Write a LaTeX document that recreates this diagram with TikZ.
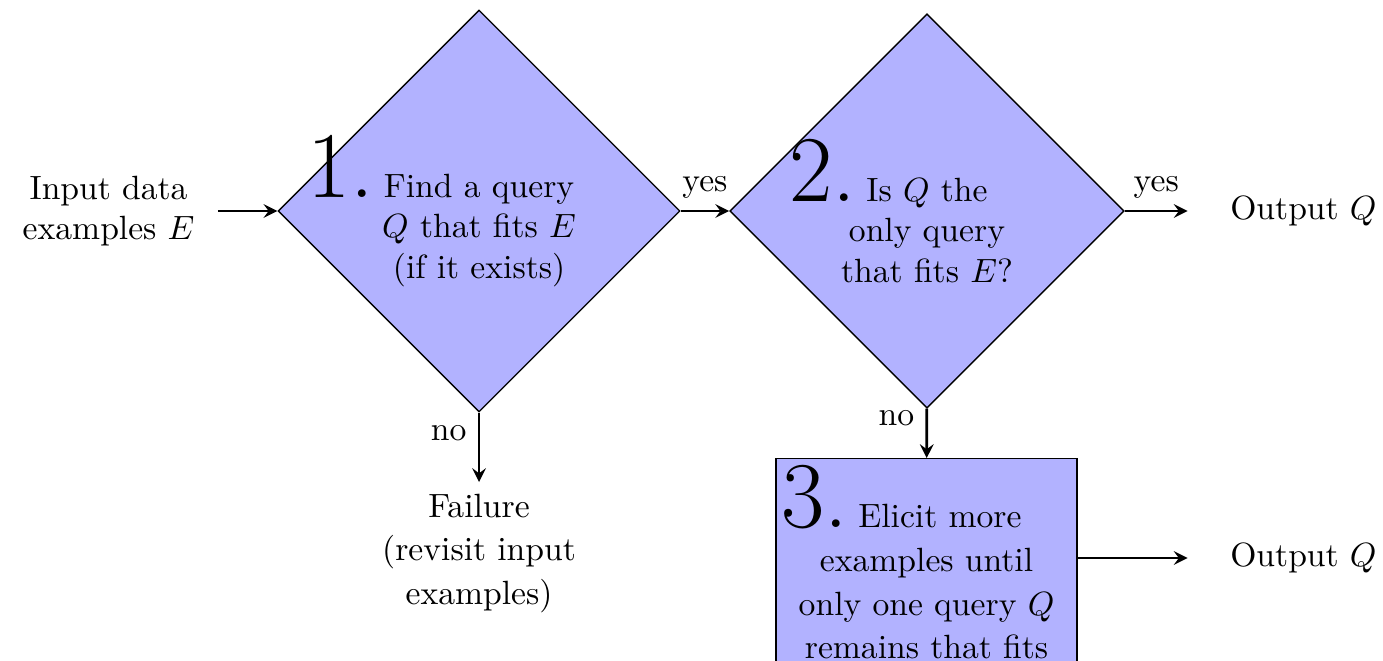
\documentclass[tikz,border=0pt]{standalone}
\usepackage{tikz}
\usetikzlibrary{shapes.geometric,calc}
\newcommand{\stepnum}[1]{\llap{\fontsize{28}{30}\selectfont #1.\hspace{3pt}}}

\begin{document}
\begin{tikzpicture}[
 decision/.style={
      diamond,
      aspect=1,
      draw=black,
      fill=blue!30,
      align=center,
      inner sep=0pt
   },
   process/.style={
    rectangle,
    draw=black,
    fill=blue!30,
    align=center,
    inner xsep=0pt,
    inner ysep=2pt
   },
   io/.style={
    align=center
   }
 ]
 \useasboundingbox (0,0) rectangle (14.452,-6.907);
 \clip (0,0) rectangle (14.452,-6.907);

 %krok 1
 \node[decision, minimum size=4.2cm] (find) at (5.006,-2.205)
  {\stepnum{1}Find a query\\ $Q$ that fits $E$\\ (if it exists)};
 %krok 2
 \node[decision, minimum size=4.12cm] (unique) at (9.687,-2.205)
  {\stepnum{2}Is $Q$ the\\ only query\\ that fits $E$?};
 %krok 3
 \node[process, anchor=north, minimum width=3.146cm, text depth=1.2cm] (elicit) at (9.682,-4.786)
  {\kern4pt\stepnum{3}Elicit more\kern-4pt\\[1pt] examples until\\[1pt] only one query $Q$\\[1pt] remains that fits};

 %vstup
 \node[io, anchor=east, inner xsep=6.8pt] (input) at (2.278,-2.205) {Input data\\ examples $E$};
 %vystupy
 \node[io, anchor=west, inner xsep=12.5pt] (out1) at (12.41,-2.205) {Output $Q$};
 \node[io, anchor=west, inner xsep=12.5pt] (out2) at (12.41,-5.831) {Output $Q$};
 %chyba
 \node[io, anchor=north] (fail) at (5.006,-5.037) {Failure\\[1pt] (revisit input\\[1pt] examples)};

 %šipky
 \draw[thick,-stealth] (input) -- (find);
 \draw[thick,-stealth] (find) -- node[above]{yes} (unique);
 \draw[thick,-stealth] (unique) -- node[above]{yes} (out1);
 \draw[thick,-stealth] (find) -- node[left, pos=0.3]{no} (fail);
 \draw[thick,-stealth] (unique) -- node[left, pos=0.2]{no} (elicit);
 \draw[thick,-stealth] (out2 -| elicit.east) -- (out2);
\end{tikzpicture}
\end{document}
